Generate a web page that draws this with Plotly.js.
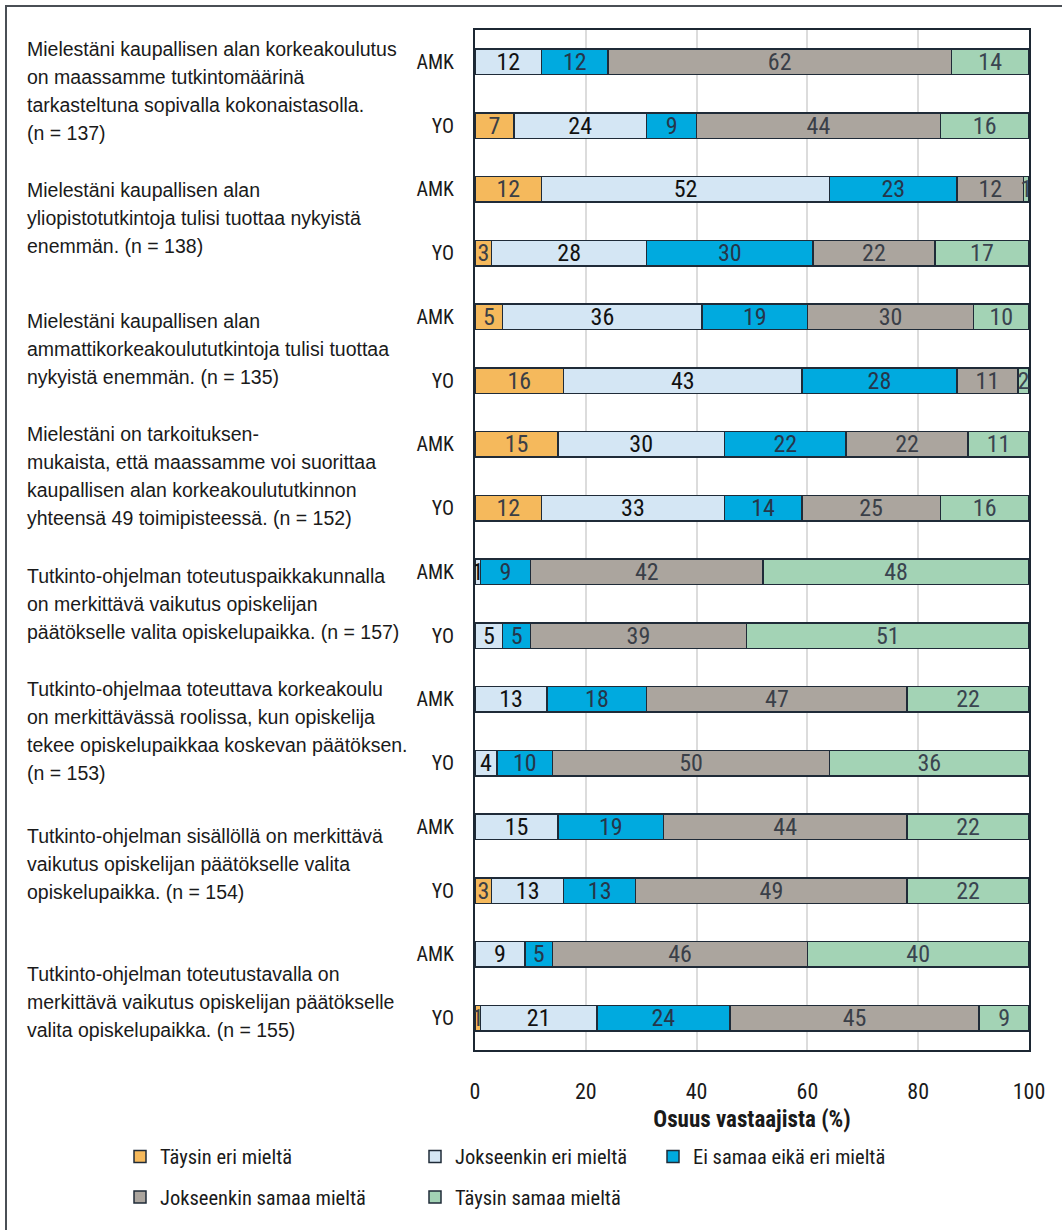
<!DOCTYPE html>
<html>
<head>
<meta charset="utf-8">
<script src="https://cdn.plot.ly/plotly-3.0.1.min.js"></script>
<style>
  html, body { margin: 0; padding: 0; background: #ffffff; }
  #wrap { position: relative; width: 1062px; height: 1230px; overflow: hidden; }
  #chart { width: 1062px; height: 1230px; }
  #frame { position: absolute; left: 5px; top: 5px; width: 1080px; height: 1260px;
           border-left: 2px solid #4a4f55; border-top: 2px solid #4a4f55; pointer-events: none; }
</style>
</head>
<body>
<div id="wrap"><div id="chart"></div><div id="frame"></div></div>
<script>
// ---- data ----
const barLabels = ["AMK","YO","AMK","YO","AMK","YO","AMK","YO","AMK","YO","AMK","YO","AMK","YO","AMK","YO"];
const seriesNames = ["Täysin eri mieltä","Jokseenkin eri mieltä","Ei samaa eikä eri mieltä","Jokseenkin samaa mieltä","Täysin samaa mieltä"];
const taysinEri      = [0, 7, 12, 3, 5, 16, 15, 12, 0, 0, 0, 0, 0, 3, 0, 1];
const jokseenkinEri  = [12, 24, 52, 28, 36, 43, 30, 33, 1, 5, 13, 4, 15, 13, 9, 21];
const eiSamaaEiEri   = [12, 9, 23, 30, 19, 28, 22, 14, 9, 5, 18, 10, 19, 13, 5, 24];
const jokseenkinSamaa= [62, 44, 12, 22, 30, 11, 22, 25, 42, 39, 47, 50, 44, 49, 46, 45];
const taysinSamaa    = [14, 16, 1, 17, 10, 2, 11, 16, 48, 51, 22, 36, 22, 22, 40, 9];
const questions = [
  ["Mielestäni kaupallisen alan korkeakoulutus","on maassamme tutkintomäärinä","tarkasteltuna sopivalla kokonaistasolla.","(n = 137)"],
  ["Mielestäni kaupallisen alan","yliopistotutkintoja tulisi tuottaa nykyistä","enemmän. (n = 138)"],
  ["Mielestäni kaupallisen alan","ammattikorkeakoulututkintoja tulisi tuottaa","nykyistä enemmän. (n = 135)"],
  ["Mielestäni on tarkoituksen-","mukaista, että maassamme voi suorittaa","kaupallisen alan korkeakoulututkinnon","yhteensä 49 toimipisteessä. (n = 152)"],
  ["Tutkinto-ohjelman toteutuspaikkakunnalla","on merkittävä vaikutus opiskelijan","päätökselle valita opiskelupaikka. (n = 157)"],
  ["Tutkinto-ohjelmaa toteuttava korkeakoulu","on merkittävässä roolissa, kun opiskelija","tekee opiskelupaikkaa koskevan päätöksen.","(n = 153)"],
  ["Tutkinto-ohjelman sisällöllä on merkittävä","vaikutus opiskelijan päätökselle valita","opiskelupaikka. (n = 154)"],
  ["Tutkinto-ohjelman toteutustavalla on","merkittävä vaikutus opiskelijan päätökselle","valita opiskelupaikka. (n = 155)"]
];
const xTicks = [0, 20, 40, 60, 80, 100];
const xTitle = "Osuus vastaajista (%)";

// ---- styling ----
const allSeries = [taysinEri, jokseenkinEri, eiSamaaEiEri, jokseenkinSamaa, taysinSamaa];
const colors = ["#F5B95C","#D4E6F4","#00AADF","#ABA59E","#A3D3B5"];
const textColors = ["#3b3f46","#111111","#26364a","#3a3f48","#3a4450"];
const legendFor = ["legend","legend2","legend3","legend","legend2"];
const NARROW = "'Roboto Condensed','DejaVu Sans Condensed',sans-serif";
const REG = "'Liberation Sans',Arial,sans-serif";

const M = {l: 475, r: 33, t: 30, b: 163};
const W = 1062, H = 1230;
const plotH = H - M.t - M.b;
const nBars = barLabels.length;
const pxPerUnit = plotH / nBars;
const yIdx = barLabels.map((_, i) => i);

const traces = allSeries.map((vals, s) => ({
  type: 'bar',
  orientation: 'h',
  name: seriesNames[s],
  y: yIdx,
  x: vals,
  text: vals.map(v => v > 0 ? String(v) : ''),
  textposition: 'inside',
  insidetextanchor: 'middle',
  textangle: 0,
  constraintext: 'none',
  cliponaxis: false,
  insidetextfont: {family: NARROW, size: 24, color: textColors[s]},
  marker: {color: colors[s], line: {color: '#1f2b38', width: 1.5}},
  legend: legendFor[s],
  legendgroup: 'g' + s,
  hoverinfo: 'skip'
}));

// question text, one annotation per line
const offsets = [-3, -3, 0, 0, 0, 0, 5, 16];
const lineGap = 28.5;
const annotations = [];
questions.forEach((lines, q) => {
  const center = 2 * q + 0.5;
  lines.forEach((ln, k) => {
    const dy = (offsets[q] + (k - (lines.length - 1) / 2) * lineGap) / pxPerUnit;
    annotations.push({
      xref: 'paper', yref: 'y', x: (25 - M.l) / (W - M.l - M.r), y: center + dy,
      xanchor: 'left', yanchor: 'middle', showarrow: false, text: ln,
      font: {family: REG, size: 19.5, color: '#1a1a1a'}
    });
  });
});

const pw = W - M.l - M.r;
function px2x(p) { return (p - M.l) / pw; }
function py2y(p) { return 1 - (p - M.t) / plotH; }
const legBase = {orientation: 'v', yanchor: 'top', y: py2y(1155), xanchor: 'left',
  font: {family: NARROW, size: 20.5, color: '#1a1a1a'}, traceorder: 'grouped', tracegroupgap: 11,
  bgcolor: 'rgba(0,0,0,0)', itemwidth: 30};

const layout = {
  width: W, height: H,
  margin: M,
  paper_bgcolor: '#ffffff', plot_bgcolor: '#ffffff',
  barmode: 'stack',
  bargap: 0.6,
  showlegend: true,
  uniformtext: {mode: 'show', minsize: 24},
  xaxis: {
    range: [0, 100], tickvals: xTicks, ticktext: xTicks.map(String),
    showgrid: true, gridcolor: '#dcdcdc', gridwidth: 2, zeroline: false,
    showline: true, mirror: true, linecolor: '#1c2733', linewidth: 2,
    ticks: '', ticklabelstandoff: 21,
    tickfont: {family: NARROW, size: 22, color: '#1a1a1a'},
    title: {text: '<b>' + xTitle + '</b>', font: {family: NARROW, size: 23, color: '#1a1a1a'}, standoff: 7},
    fixedrange: true
  },
  yaxis: {
    range: [nBars - 0.5, -0.5], tickvals: yIdx, ticktext: barLabels,
    showgrid: false, zeroline: false,
    showline: true, mirror: true, linecolor: '#1c2733', linewidth: 2,
    ticks: '', ticklabelstandoff: 15,
    tickfont: {family: NARROW, size: 20, color: '#1a1a1a'},
    fixedrange: true
  },
  legend: Object.assign({}, legBase, {x: px2x(120)}),
  legend2: Object.assign({}, legBase, {x: px2x(415)}),
  legend3: Object.assign({}, legBase, {x: px2x(653)}),
  annotations: annotations
};

Plotly.newPlot('chart', traces, layout, {displayModeBar: false, staticPlot: true});
</script>
</body>
</html>
